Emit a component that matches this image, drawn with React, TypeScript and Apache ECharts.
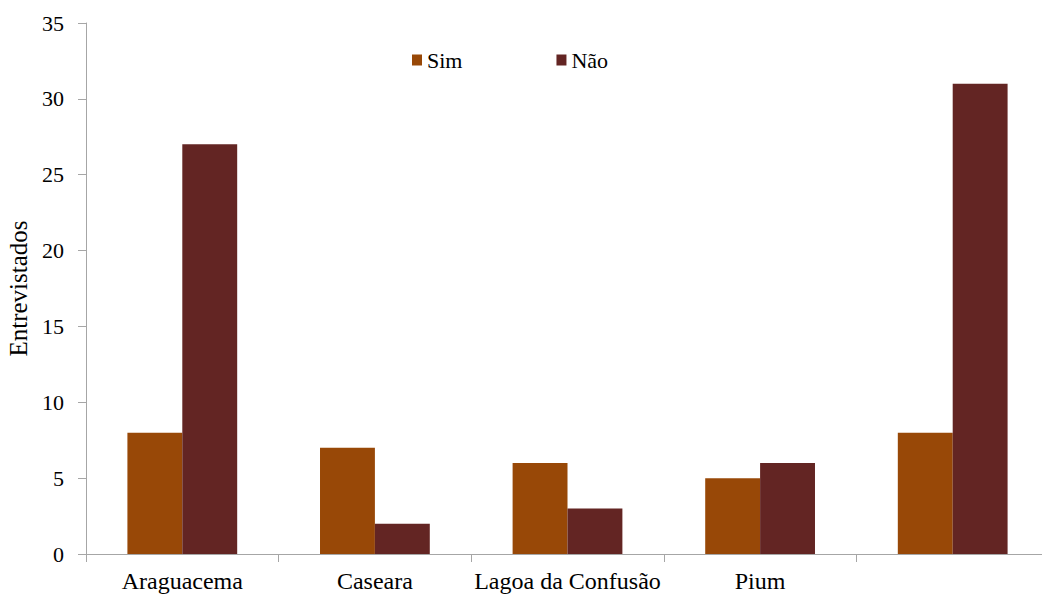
import React, { useEffect, useRef } from "react";
import * as echarts from "echarts";

// Municípios (o quinto rótulo aparece em branco no eixo)
const categories: string[] = ["Araguacema", "Caseara", "Lagoa da Confusão", "Pium", ""];
const simValues: number[] = [8, 7, 6, 5, 8];
const naoValues: number[] = [27, 2, 3, 6, 31];
const yTicks = { min: 0, max: 35, interval: 5 };

const FONT = "Liberation Serif";
const AXIS_COLOR = "#a6a6a6";

export default function App() {
  const ref = useRef<HTMLDivElement>(null);

  useEffect(() => {
    if (!ref.current) return;
    const chart = echarts.init(ref.current, null, { renderer: "svg" });
    chart.setOption({
      animation: false,
      backgroundColor: "#ffffff",
      textStyle: { fontFamily: FONT, color: "#000" },
      legend: {
        left: 407,
        top: 44,
        itemWidth: 10,
        itemHeight: 11,
        itemGap: 94,
        icon: "rect",
        textStyle: { fontFamily: FONT, fontSize: 22, color: "#000" },
        data: ["Sim", "Não"],
      },
      grid: { left: 86, top: 23, bottom: 40, width: 963, outerBoundsMode: "none", containLabel: false },
      xAxis: {
        type: "category",
        data: categories,
        axisLine: { lineStyle: { color: AXIS_COLOR, width: 1 } },
        axisTick: { show: true, length: 8, lineStyle: { color: AXIS_COLOR } },
        axisLabel: { fontFamily: FONT, fontSize: 24, color: "#000", margin: 15, interval: 0 },
      },
      yAxis: {
        type: "value",
        min: yTicks.min,
        max: yTicks.max,
        interval: yTicks.interval,
        name: "Entrevistados",
        nameLocation: "middle",
        nameGap: 54,
        nameTextStyle: { fontFamily: FONT, fontSize: 25, color: "#000" },
        axisLine: { show: true, lineStyle: { color: AXIS_COLOR, width: 1 } },
        axisTick: { show: true, length: 8, lineStyle: { color: AXIS_COLOR } },
        splitLine: { show: false },
        axisLabel: { fontFamily: FONT, fontSize: 22, color: "#000", margin: 22 },
      },
      series: [
        {
          name: "Sim",
          type: "bar",
          data: simValues,
          itemStyle: { color: "#984807" },
          barGap: "0%",
          barCategoryGap: "43%",
        },
        {
          name: "Não",
          type: "bar",
          data: naoValues,
          itemStyle: { color: "#632523" },
          barGap: "0%",
          barCategoryGap: "43%",
        },
      ],
    });
    return () => chart.dispose();
  }, []);

  return <div ref={ref} style={{ width: 1042, height: 594, position: "absolute", left: 0, top: 0 }} />;
}
